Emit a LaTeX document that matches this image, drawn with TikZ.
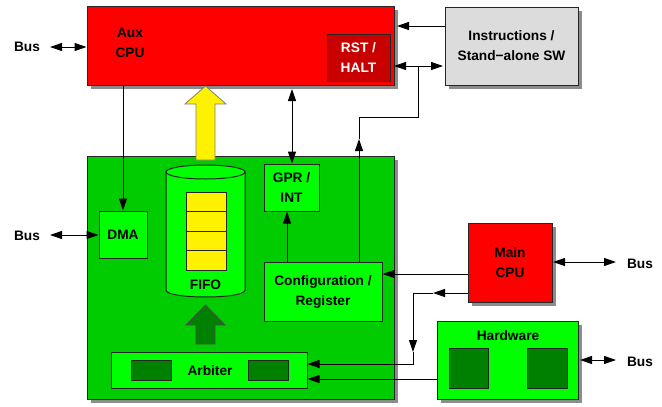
\documentclass[tikz,border=0pt]{standalone}
\usepackage{fontspec}
\setmainfont{Liberation Sans}
\usetikzlibrary{arrows.meta,shadows}
\definecolor{myred}{HTML}{FF0000}
\definecolor{rstred}{HTML}{C80000}
\definecolor{bggreen}{HTML}{00CC00}
\definecolor{ltgreen}{HTML}{00FF00}
\definecolor{dkgreen}{HTML}{008000}
\definecolor{ltgray}{HTML}{DCDCDC}
\begin{document}
\begin{tikzpicture}[x=1pt,y=-1pt,
  txt/.style={font=\fontsize{13.7}{20}\selectfont\bfseries, align=center, inner sep=0pt},
  box/.style={draw=black!85, line width=1pt, inner sep=0pt, font=\fontsize{13.7}{20}\selectfont\bfseries, align=center},
  shad/.style={drop shadow={shadow xshift=4pt,shadow yshift=-4pt,opacity=1,fill=black!45}},
  arr/.style={line width=1pt, -{Triangle[length=12pt,width=8pt]}},
  dbl/.style={line width=1pt, {Triangle[length=12pt,width=8pt]}-{Triangle[length=12pt,width=8pt]}},
  ln/.style={line width=1pt}]
\useasboundingbox (0,0) rectangle (662,407);

% main boxes
\node[box, shad, fill=myred, minimum width=307pt, minimum height=79pt] (aux) at (240.5,45.5) {};
\node[box, shad, fill=ltgray, minimum width=133pt, minimum height=78pt] (instr) at (511.5,46) {Instructions /\\Stand−alone SW};
\node[box, shad, fill=bggreen, minimum width=307pt, minimum height=243pt] (grn) at (240.5,277.5) {};
\node[box, shad, fill=myred, minimum width=84pt, minimum height=79pt] (mcpu) at (510,262.5) {Main\\CPU};
\node[box, shad, fill=ltgreen, minimum width=141pt, minimum height=78pt] (hw) at (507.5,360) {};

% inner boxes
\node[box, fill=rstred, text=white, minimum width=63pt, minimum height=47pt] (rst) at (358.5,57.5) {RST /\\HALT};
\node[txt] (auxt) at (130,43) {Aux\\CPU};
\node[box, fill=ltgreen, minimum width=48pt, minimum height=47pt] (dma) at (123,234.5) {DMA};
\node[box, fill=ltgreen, minimum width=55pt, minimum height=47pt] (gpr) at (291.5,187.5) {GPR /\\INT};
\node[box, fill=ltgreen, minimum width=118pt, minimum height=59pt] (cfg) at (323,291.5) {Configuration /\\Register};
\node[box, fill=ltgreen, minimum width=196pt, minimum height=36pt] (arb) at (209,370) {};
\node[box, fill=dkgreen, minimum width=40pt, minimum height=20pt] (arb1) at (151,370) {};
\node[box, fill=dkgreen, minimum width=40pt, minimum height=20pt] (arb2) at (268,370) {};
\node[txt] (arbt) at (210,371) {Arbiter};
\node[txt] (hwt) at (508,336) {Hardware};
\node[box, fill=dkgreen, minimum width=39pt, minimum height=40pt] (hw1) at (468.5,368) {};
\node[box, fill=dkgreen, minimum width=40pt, minimum height=40pt] (hw2) at (547,368) {};

% FIFO cylinder
\draw[line width=1pt, draw=black!85, fill=ltgreen] (166,172) -- (166,290) .. controls (166,299.33) and (245,299.33) .. (245,290) -- (245,172) -- cycle;
\draw[line width=1pt, draw=black!85, fill=ltgreen] (205.5,172) ellipse [x radius=39.5, y radius=7];
\foreach \i in {0,1,2,3}{
  \draw[line width=1pt, draw=black!85, fill=yellow] (186,192+19.5*\i) rectangle (226,211.5+19.5*\i);
}
\node[txt] (fifot) at (205.5,285) {FIFO};

% big arrows
\draw[line width=0.8pt, draw=black!50, fill=yellow] (196,160) -- (196,104) -- (185,104) -- (205.5,86) -- (226,104) -- (215,104) -- (215,160) -- cycle;
\draw[line width=0.8pt, draw=black!70, fill=dkgreen] (196,344) -- (196,325) -- (186,325) -- (205.5,305) -- (225,325) -- (215,325) -- (215,344) -- cycle;

% Bus labels
\node[txt] (bus1) at (27,47) {Bus};
\node[txt] (bus2) at (27,236) {Bus};
\node[txt] (bus3) at (640,264) {Bus};
\node[txt] (bus4) at (640,362) {Bus};

% connectors
\coordinate (b1) at (50,47);
\draw[dbl] (b1) -- (aux.west |- b1);
\coordinate (b2) at (50,235);
\draw[dbl] (b2) -- (dma.west |- b2);
\coordinate (b3) at (616,262);
\draw[dbl] (553,262) -- (b3);
\coordinate (b4) at (616,360);
\draw[dbl] (580,360) -- (b4);

\coordinate (i1) at (445,26);
\draw[arr] (i1) -- (397,26);
\coordinate (r1) at (394,66);
\coordinate (r2) at (443,66);
\draw[dbl] (r1) -- (r2);
\coordinate (c1) at (359,139);
\draw[arr] (cfg.north -| c1) -- (c1);
\draw[ln] (c1) -- (359,117) -- (418,117) -- (418,66);

\draw[arr] (aux.south -| dma.north) -- (dma.north);
\coordinate (g1) at (292,89);
\draw[dbl] (g1) -- (gpr.north -| g1);
\coordinate (g2) at (287,262);
\draw[arr] (g2) -- (gpr.south -| g2);

\coordinate (m1) at (468,274);
\draw[arr] (m1) -- (cfg.east |- m1);
\coordinate (m2) at (468,293);
\coordinate (m3) at (433,293);
\coordinate (m4) at (413,352);
\coordinate (m5) at (413,364);
\draw[arr] (m2) -- (m3);
\draw[arr] (m3) -- (413,293) -- (m4);
\draw[arr] (m4) -- (m5) -- (arb.east |- m5);
\coordinate (h1) at (437,379);
\draw[arr] (h1) -- (arb.east |- h1);
\end{tikzpicture}
\end{document}
